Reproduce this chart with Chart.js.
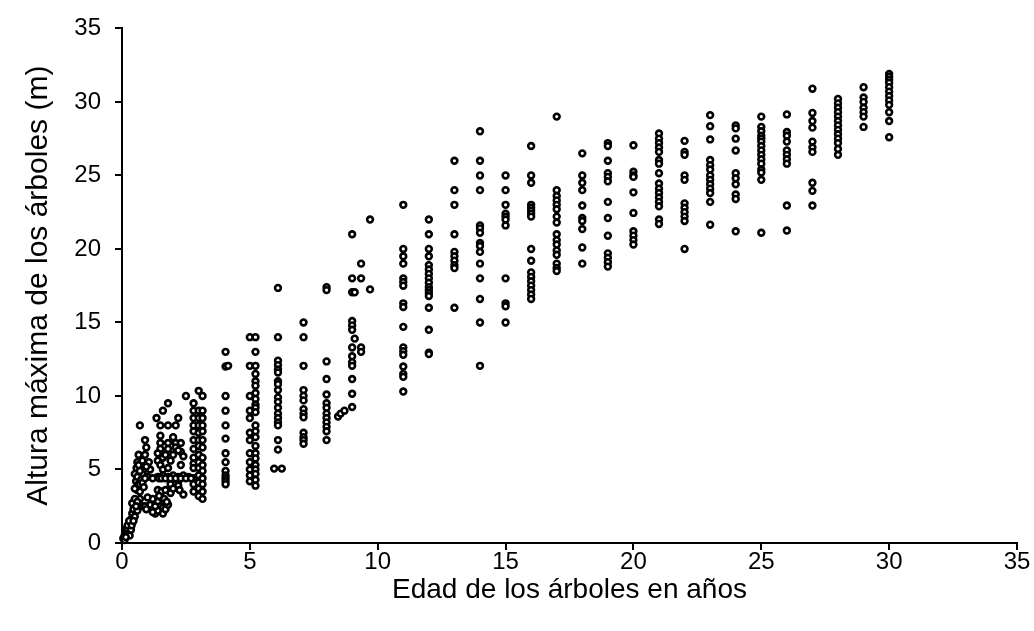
<!DOCTYPE html>
<html>
<head>
<meta charset="utf-8">
<script src="https://cdn.jsdelivr.net/npm/chart.js@4/dist/chart.umd.min.js"></script>
<style>
  body { margin: 0; background: #fff; }
  #wrap { width: 1034px; height: 631px; }
</style>
</head>
<body>
<div id="wrap"><canvas id="grafico" width="1034" height="631"></canvas></div>
<script>
const edades = [2.8, 3.0, 3.15, 4.05, 5.0, 5.22, 6.1, 7.1, 8.0, 9.0, 11, 12, 13, 14, 15, 16, 17, 18, 19, 20, 21, 22, 23, 24, 25, 26, 27, 28, 29, 30];
const alturasPorEdad = [
    [9.5, 9.0, 8.5, 8.0, 7.6, 7.0, 6.4, 5.8, 5.4, 5.1, 4.4, 4.0, 3.5],
    [10.35, 9.0, 8.5, 8.0, 7.5, 7.0, 6.6, 6.0, 5.5, 5.1, 4.6, 4.1, 3.7, 3.2],
    [10.0, 9.0, 8.5, 8.0, 7.6, 7.0, 6.5, 5.8, 5.3, 4.9, 4.4, 4.0, 3.5, 3.0],
    [13.0, 12.0, 10.0, 9.0, 8.0, 7.1, 6.1, 5.5, 4.9, 4.6, 4.4, 4.2, 4.0],
    [14.0, 12.05, 10.0, 9.0, 8.5, 7.5, 7.0, 6.1, 5.5, 5.0, 4.6, 4.2],
    [14.0, 13.0, 12.05, 11.5, 11.0, 10.7, 10.2, 9.8, 9.4, 9.2, 8.9, 8.0, 7.6, 7.2, 6.6, 6.1, 5.75, 5.3, 5.0, 4.7, 4.3, 3.9],
    [17.35, 14.0, 12.4, 12.1, 11.8, 11.6, 11.0, 10.8, 10.4, 9.9, 9.6, 9.2, 8.8, 8.5, 8.2, 8.0, 7.0, 6.35],
    [15.0, 14.0, 12.05, 10.4, 10.0, 9.7, 9.1, 8.8, 8.55, 7.5, 7.2, 7.0, 6.75],
    [17.4, 17.2, 12.35, 11.15, 10.1, 9.5, 9.2, 8.8, 8.5, 8.2, 7.9, 7.6, 7.0],
    [21.0, 18.0, 17.05, 15.1, 14.8, 14.5, 13.3, 12.7, 12.3, 12.05, 11.15, 10.15, 9.25],
    [23.0, 20.0, 19.5, 19.0, 18.0, 17.75, 17.5, 16.3, 16.05, 14.7, 13.3, 13.05, 12.8, 12.0, 11.5, 11.3, 10.3],
    [22.0, 21.0, 20.0, 19.5, 18.9, 18.6, 18.3, 18.0, 17.7, 17.4, 17.2, 17.0, 16.8, 16.0, 14.5, 12.95, 12.85],
    [26.0, 24.0, 23.0, 21.0, 19.8, 19.5, 19.2, 18.9, 18.7, 16.0],
    [28.0, 26.0, 25.0, 24.0, 21.6, 21.4, 21.1, 20.4, 20.2, 19.8, 19.0, 18.0, 16.6, 15.0, 12.05],
    [25.0, 24.0, 23.0, 22.4, 22.2, 22.0, 21.6, 18.0, 16.3, 16.1, 15.0],
    [27.0, 25.0, 24.5, 23.0, 22.8, 22.6, 22.4, 22.2, 20.0, 19.2, 18.4, 18.1, 17.8, 17.5, 17.2, 16.9, 16.6],
    [29.0, 24.0, 23.6, 23.3, 23.0, 22.7, 22.2, 21.8, 21.0, 20.6, 20.3, 19.9, 19.6, 19.0, 18.7, 18.5],
    [26.5, 25.0, 24.5, 24.0, 22.95, 22.1, 21.9, 21.35, 20.1, 19.0],
    [27.2, 27.0, 26.0, 25.15, 24.9, 24.6, 23.2, 22.1, 20.9, 19.7, 19.4, 19.1, 18.8],
    [27.05, 25.25, 25.0, 24.9, 23.85, 22.45, 21.2, 20.9, 20.6, 20.3],
    [27.85, 27.5, 27.2, 26.9, 26.6, 26.05, 25.8, 25.15, 24.45, 24.1, 23.8, 23.5, 23.2, 22.9, 22.0, 21.7],
    [27.35, 26.6, 26.4, 25.0, 24.7, 23.1, 22.8, 22.5, 22.2, 21.9, 20.0],
    [29.1, 28.35, 27.45, 26.05, 25.7, 25.4, 25.0, 24.7, 24.4, 24.1, 23.8, 23.2, 21.65],
    [28.4, 28.2, 27.5, 26.7, 25.15, 24.8, 24.4, 23.7, 23.4, 21.2],
    [29.0, 28.3, 28.0, 27.7, 27.5, 27.3, 27.0, 26.7, 26.4, 26.1, 25.8, 25.4, 25.2, 24.7, 21.1],
    [29.15, 27.95, 27.7, 27.3, 26.7, 26.4, 26.1, 25.8, 22.95, 21.25],
    [30.9, 29.25, 28.7, 28.25, 27.3, 26.9, 26.6, 24.5, 23.95, 22.95],
    [30.2, 29.9, 29.6, 29.3, 29.0, 28.7, 28.4, 28.1, 27.8, 27.5, 27.2, 26.8, 26.4],
    [31.0, 30.3, 30.0, 29.6, 29.3, 29.0, 28.3],
    [31.9, 31.7, 31.5, 31.3, 31.0, 30.7, 30.4, 30.1, 29.8, 29.3, 28.7, 27.6]
];

// Puntos sueltos (sobre todo árboles jóvenes)
const edadSuelta = [2.5, 2.2, 1.8, 1.6, 1.35, 1.5, 1.8, 2.1, 1.5, 2.0, 1.5, 1.8, 2.1, 2.3, 1.5, 1.8, 2.1, 2.3, 2.4, 2.3,
    1.4, 1.5, 1.1, 1.6, 1.8, 1.4, 1.6, 1.8, 2.0, 2.2, 2.4, 2.6, 2.2, 2.2, 2.25, 2.4, 1.9, 1.4, 1.55, 1.7,
    1.2, 1.4, 1.5, 1.6, 1.0, 1.1, 0.8, 0.9, 0.95, 1.3, 1.4, 1.6, 1.7, 1.8, 1.2,
    0.6, 0.7, 0.5, 0.55, 0.5, 0.7, 0.9, 0.95, 0.9, 0.65, 0.85, 0.8, 0.57, 0.6, 0.6, 0.75, 0.7, 0.75, 0.65, 1.0, 1.2, 1.05,
    0.05, 0.1, 0.12, 0.15, 0.2, 0.25, 0.3, 0.3, 0.35, 0.4, 0.45, 0.4, 0.5, 0.5, 0.6, 0.2, 0.1, 0.3, 0.35,
    1.45, 1.55, 1.7, 1.9, 2.1, 2.3, 2.5, 2.7,
    0.7, 0.8, 0.85, 0.9, 0.65, 0.8, 0.95, 0.7, 0.6, 0.55,
    1.3, 1.45, 1.9, 2.0, 1.65, 1.75,
    0.15, 0.22, 0.28, 0.38, 0.45,
    1.6, 1.9, 2.0, 1.7, 2.2, 1.4,
    5.95, 6.25, 8.45, 8.55, 8.7, 9.1, 9.1, 9.35, 9.35, 9.35, 9.35, 9.7, 9.7, 4.15];
const alturaSuelta = [10.0, 8.5, 9.5, 9.0, 8.5, 8.0, 8.0, 8.0, 7.3, 7.2, 6.8, 6.8, 6.8, 6.8, 6.4, 6.4, 6.5, 6.2, 5.9, 5.3,
    5.6, 5.3, 5.0, 5.0, 5.1, 4.5, 4.6, 4.5, 4.6, 4.5, 4.6, 4.5, 4.2, 3.9, 3.6, 3.3, 4.0, 3.6, 3.5, 3.6,
    3.0, 2.8, 2.5, 2.4, 3.1, 2.6, 2.5, 2.5, 2.3, 2.0, 2.2, 2.0, 2.3, 2.6, 2.1,
    3.6, 3.5, 4.7, 4.2, 3.7, 8.0, 7.0, 6.5, 6.0, 6.0, 5.0, 4.7, 5.1, 4.5, 5.5, 5.3, 4.9, 4.3, 4.0, 4.5, 4.4, 5.5,
    0.3, 0.5, 0.9, 0.7, 0.6, 0.8, 1.0, 1.3, 1.6, 2.0, 2.3, 2.7, 3.0, 1.8, 2.2, 1.0, 0.2, 0.5, 0.9,
    4.4, 4.4, 4.4, 4.4, 4.4, 4.4, 4.4, 4.4,
    4.0, 4.1, 3.8, 4.4, 5.3, 5.6, 5.2, 3.0, 2.8, 2.5,
    2.5, 3.2, 3.4, 3.7, 3.0, 2.8,
    0.4, 1.2, 1.5, 1.2, 1.5,
    5.8, 5.6, 6.0, 6.0, 6.3, 6.1,
    5.06, 5.06, 8.6, 8.8, 9.0, 17.05, 13.9, 19.0, 18.0, 13.3, 13.0, 22.0, 17.25, 12.05];

const ticksEje = [0, 5, 10, 15, 20, 25, 30, 35];

const puntos = [];
edades.forEach((e, i) => {
    alturasPorEdad[i].forEach(h => puntos.push({ x: e, y: h }));
});
edadSuelta.forEach((e, i) => puntos.push({ x: e, y: alturaSuelta[i] }));

const fuente = 'Liberation Sans, Arial, sans-serif';

const ejeComun = {
    type: 'linear',
    min: ticksEje[0],
    max: ticksEje[ticksEje.length - 1],
    border: { display: true, color: '#000', width: 2 },
    grid: { drawOnChartArea: false, drawTicks: true, tickLength: 7, color: '#000', lineWidth: 2 },
    afterBuildTicks: s => { s.ticks = ticksEje.map(v => ({ value: v })); }
};

new Chart(document.getElementById('grafico'), {
    type: 'scatter',
    data: {
        datasets: [{
            data: puntos,
            pointRadius: 2.9,
            pointHoverRadius: 2.9,
            borderWidth: 2.6,
            borderColor: '#000',
            backgroundColor: '#fff',
            clip: false
        }]
    },
    options: {
        responsive: false,
        animation: false,
        devicePixelRatio: 1,
        layout: { padding: { top: 26, right: 17, left: 0, bottom: 0 } },
        plugins: { legend: { display: false }, tooltip: { enabled: false } },
        scales: {
            x: Object.assign({}, ejeComun, {
                ticks: { color: '#000', font: { family: fuente, size: 24 }, padding: -2, maxRotation: 0 },
                title: { display: true, text: 'Edad de los árboles en años', color: '#000',
                         font: { family: fuente, size: 28 }, padding: { top: 0, bottom: 24 } },
                afterFit: s => { s.height = 88; }
            }),
            y: Object.assign({}, ejeComun, {
                ticks: { color: '#000', font: { family: fuente, size: 24 }, padding: 14 },
                title: { display: true, text: 'Altura máxima de los árboles (m)', color: '#000',
                         font: { family: fuente, size: 30 }, padding: { top: 21, bottom: 0 } },
                afterFit: s => { s.width = 122; }
            })
        }
    }
});
</script>
</body>
</html>
